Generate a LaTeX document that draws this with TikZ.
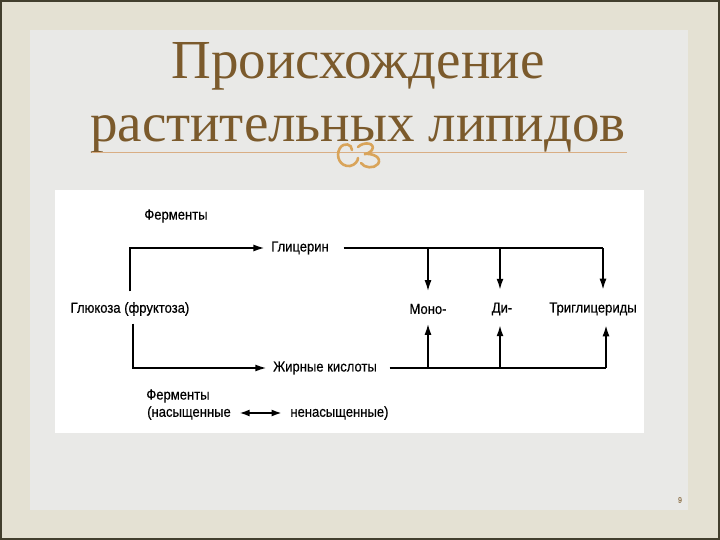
\documentclass[tikz,border=0pt]{standalone}
\usepackage{fontspec}
\setmainfont{Liberation Serif}
\newfontfamily\diafont[FakeStretch=0.9,FakeBold=0.4]{Liberation Sans}
\usetikzlibrary{positioning,calc,arrows.meta}
\definecolor{frameBeige}{HTML}{E4E1D3}
\definecolor{slideGray}{HTML}{E9E9E7}
\definecolor{titleBrown}{HTML}{7B5A2C}
\definecolor{ruleTan}{HTML}{D9AE84}
\definecolor{ornTan}{HTML}{D9A45A}

\begin{document}
\begin{tikzpicture}[x=1pt,y=-1pt,-{Latex[length=11pt,width=7pt]},line width=1.6pt,
  lbl/.style={font=\diafont\fontsize{14.5}{16}\selectfont,inner sep=2pt},
  node distance=8pt]

%%%%%%%%%%%%%%%%%%%%%% SLIDE
\fill[frameBeige] (0,0) rectangle (720,540);
\fill[slideGray] (30,30) rectangle (688,510);
\draw[-,line width=2pt,black!70!olive] (1,1) rectangle (719,539);
\useasboundingbox (0,0) rectangle (720,540);

\node[text=titleBrown,font=\fontsize{55}{63}\selectfont,align=center] (title) at (358,98) {Происхождение\\растительных липидов};
\draw[-,ruleTan,line width=0.8pt] (92,152) -- (627,152);
% ornament under the title
\draw[-,ornTan,line width=2.6pt,line cap=round] (352,150) .. controls (352,144) and (344,142) .. (340,148)
  .. controls (335,156) and (340,167) .. (350,166) .. controls (355,165) and (358,161) .. (358,158);
\draw[-,ornTan,line width=2.6pt,line cap=round] (358,147) .. controls (364,141) and (376,143) .. (372,150)
  .. controls (370,153) and (366,154) .. (364,154) .. controls (374,153) and (382,158) .. (378,164)
  .. controls (374,169) and (364,168) .. (361,163);
\node[text=titleBrown!80,font=\diafont\fontsize{8}{8}\selectfont] (pg) at (680,500) {9};

\fill[white] (55,190) rectangle (644,433);

%%%%%%%%%%%%%%%%%%%%%% SCHEME
\node[lbl] (glu) at (130,309) {Глюкоза (фруктоза)};
\node[lbl] (ferm1) at (176,216) {Ферменты};
\node[lbl] (gly) at (300,248) {Глицерин};
\node[lbl] (fa) at (325,368) {Жирные кислоты};
\node[lbl] (mono) at (428,309) {Моно-};
\node[lbl] (di) at (502,309) {Ди-};
\node[lbl] (tri) at (593,309) {Триглицериды};
\node[lbl] (ferm2) at (178,396) {Ферменты};
\node[lbl] (sat) at (189,413) {(насыщенные};
\node[lbl,right=of sat,xshift=46pt] (unsat) {ненасыщенные)};

\draw ([yshift=8pt]glu.north) |- ([xshift=-4pt]gly.west);
\draw ([xshift=3pt,yshift=-5pt]glu.south) |- ([xshift=-4pt]fa.west);

\coordinate (top) at ([xshift=12pt]gly.east);
\coordinate (bot) at ([xshift=10pt]fa.east);
\coordinate (monoT) at ([yshift=10pt]mono.north);
\coordinate (diT) at ([xshift=-2pt,yshift=10pt]di.north);
\coordinate (triT) at ([xshift=10pt,yshift=10pt]tri.north);
\coordinate (monoB) at ([yshift=-7pt]mono.south);
\coordinate (diB) at ([xshift=-2pt,yshift=-7pt]di.south);
\coordinate (triB) at ([xshift=13pt,yshift=-7pt]tri.south);
\draw[-] (top) -- (top -| triT);
\draw[-] (bot) -- (bot -| triB);
\foreach \n in {monoT,diT,triT}
  \draw (top -| \n) -- (\n);
\foreach \n in {monoB,diB,triB}
  \draw (bot -| \n) -- (\n);

\draw[{Latex[length=10pt,width=7pt]}-{Latex[length=10pt,width=7pt]}] ([xshift=6pt]sat.east) -- ([xshift=-6pt]unsat.west);

\end{tikzpicture}
\end{document}
